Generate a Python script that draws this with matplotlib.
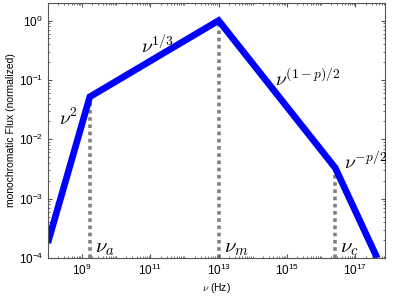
import matplotlib
matplotlib.use("Agg")
import matplotlib.pyplot as plt
from matplotlib.ticker import FixedLocator, LogLocator, FuncFormatter, NullFormatter
import numpy as np

# Data: broken power-law vertices
nu_pts = [1e8, 1.7e9, 1e13, 2.6e16, 4.4e17]
flux_pts = [1.8e-4, 5.2e-2, 1.0, 3.3e-3, 1e-4]

# break frequencies (dotted markers)
break_nu = [1.7e9, 1e13, 2.6e16]
break_flux = [5.2e-2, 1.0, 3.3e-3]
break_labels = [r'$\nu_a$', r'$\nu_m$', r'$\nu_c$']

seg_labels = [r'$\nu^2$', r'$\nu^{1/3}$', r'$\nu^{(1-p)/2}$', r'$\nu^{-p/2}$']
seg_pos = [(2.1e8, 1.75e-2), (5.3e10, 0.28), (4.6e14, 0.08), (4.8e16, 3.2e-3)]

xticks = [1e9, 1e11, 1e13, 1e15, 1e17]
yticks = [1e-4, 1e-3, 1e-2, 1e-1, 1e0]

plt.rcParams['font.family'] = ['Liberation Sans', 'DejaVu Sans']
plt.rcParams['mathtext.fontset'] = 'cm'

fig = plt.figure(figsize=(3.95, 2.98), dpi=100)
ax = fig.add_axes([0.121, 0.134, 0.854, 0.857])

for bx, by in zip(break_nu, break_flux):
    ax.plot([bx, bx], [1e-4, by], color='#808080', lw=2.6, ls=(0, (1, 1)), zorder=1)

ax.plot(nu_pts, flux_pts, color='#0000ff', lw=4.8, solid_capstyle='butt',
        solid_joinstyle='miter', zorder=2)

ax.set_xscale('log')
ax.set_yscale('log')
ax.set_xlim(1e8, 7.5e17)
ax.set_ylim(1e-4, 2.0)

fmt = FuncFormatter(lambda v, p: r'$\mathregular{10^{%d}}$' % int(round(np.log10(v))))
ax.xaxis.set_major_locator(FixedLocator(xticks))
ax.xaxis.set_major_formatter(fmt)
ax.xaxis.set_minor_locator(LogLocator(base=10, subs=np.arange(1, 10), numticks=50))
ax.xaxis.set_minor_formatter(NullFormatter())
ax.yaxis.set_major_locator(FixedLocator(yticks))
ax.yaxis.set_major_formatter(fmt)
ax.yaxis.set_minor_locator(LogLocator(base=10, subs=np.arange(2, 10), numticks=50))
ax.yaxis.set_minor_formatter(NullFormatter())

ax.tick_params(which='both', direction='in', top=True, right=True, labelsize=8.5,
               color='#555555')
ax.tick_params(which='major', length=3)
ax.tick_params(which='minor', length=1.5)
for s in ax.spines.values():
    s.set_color('#555555')
    s.set_linewidth(0.8)

for lab, (px, py) in zip(seg_labels, seg_pos):
    ax.text(px, py, lab, fontsize=14)

for bx, lab in zip(break_nu, break_labels):
    ax.text(bx * 1.4, 1.25e-4, lab, fontsize=15)

ax.set_xlabel(r'$\nu$ (Hz)', fontsize=7.5, labelpad=2)
ax.set_ylabel('monochromatic Flux (normalized)', fontsize=7.5, labelpad=2)

fig.savefig('out.png', dpi=100)
